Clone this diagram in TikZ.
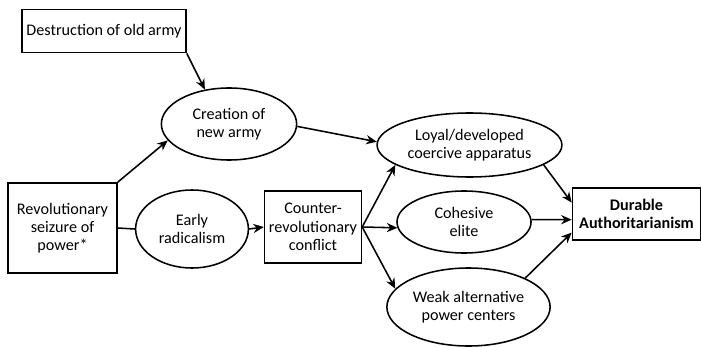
\documentclass[tikz,border=0pt]{standalone}
\usepackage{fontspec}
\setmainfont{Carlito}
\usetikzlibrary{shapes.geometric,arrows.meta}

\begin{document}
\begin{tikzpicture}[x=0.025cm, y=-0.025cm, >={Stealth[length=7.5pt,width=6.5pt]},
        box/.style={draw, line width=1.1pt, rectangle, align=center, inner sep=1pt, font=\fontsize{11.5}{13}\selectfont},
        oval/.style={draw, line width=1.1pt, ellipse, align=center, inner sep=0pt, font=\fontsize{11.5}{13}\selectfont},
        link/.style={line width=1.1pt}]
        \useasboundingbox (0,0) rectangle (701,347);

        % Left side: seizure and early steps
        \node[box, minimum width=4.1cm, minimum height=1.08cm] (destroy) at (104,31) {Destruction of old army};
        \node[box, minimum width=2.72cm, minimum height=2.25cm] (seizure) at (62.5,228) {Revolutionary\\seizure of\\power*};
        \node[oval, minimum width=3.38cm, minimum height=1.8cm] (newarmy) at (229,124) {Creation of\\new army};
        \node[oval, minimum width=2.82cm, minimum height=1.95cm] (radical) at (192,229) {Early\\radicalism};
        \node[box, minimum width=2.42cm, minimum height=1.8cm] (conflict) at (313,227) {Counter-\\revolutionary\\conflict};

        % Middle: the three outcomes
        \node[oval, minimum width=4.62cm, minimum height=1.6cm] (coercive) at (469.5,145) {Loyal/developed\\coercive apparatus};
        \node[oval, minimum width=3.35cm, minimum height=1.55cm] (elite) at (464,222) {Cohesive\\elite};
        \node[oval, minimum width=4.08cm, minimum height=1.95cm] (weakpc) at (468.5,307) {Weak alternative\\power centers};

        % Right: result
        \node[box, minimum width=3.2cm, minimum height=1.3cm, font=\fontsize{11.5}{13}\selectfont\bfseries] (durable) at (636.5,214) {Durable\\Authoritarianism};

        % Connectors
        \draw[link, ->] (destroy.south east) -- (newarmy.125);
        \draw[link, ->] (seizure.north east) -- (newarmy.195);
        \draw[link] (seizure.east) -- (radical.west);
        \draw[link, ->] (radical.east) -- (conflict.west);
        \draw[link, ->] (newarmy.-2) -- (coercive.178);
        \draw[link, ->] (conflict.east) -- (coercive.195);
        \draw[link, ->] (conflict.east) -- (elite.185);
        \draw[link, ->] (conflict.east) -- (weakpc.166);
        \draw[link, ->] (coercive.345) -- (durable.170);
        \draw[link, ->] (elite.2) -- (durable.185);
        \draw[link, ->] (weakpc.27) -- (durable.196);
    \end{tikzpicture}
\end{document}
